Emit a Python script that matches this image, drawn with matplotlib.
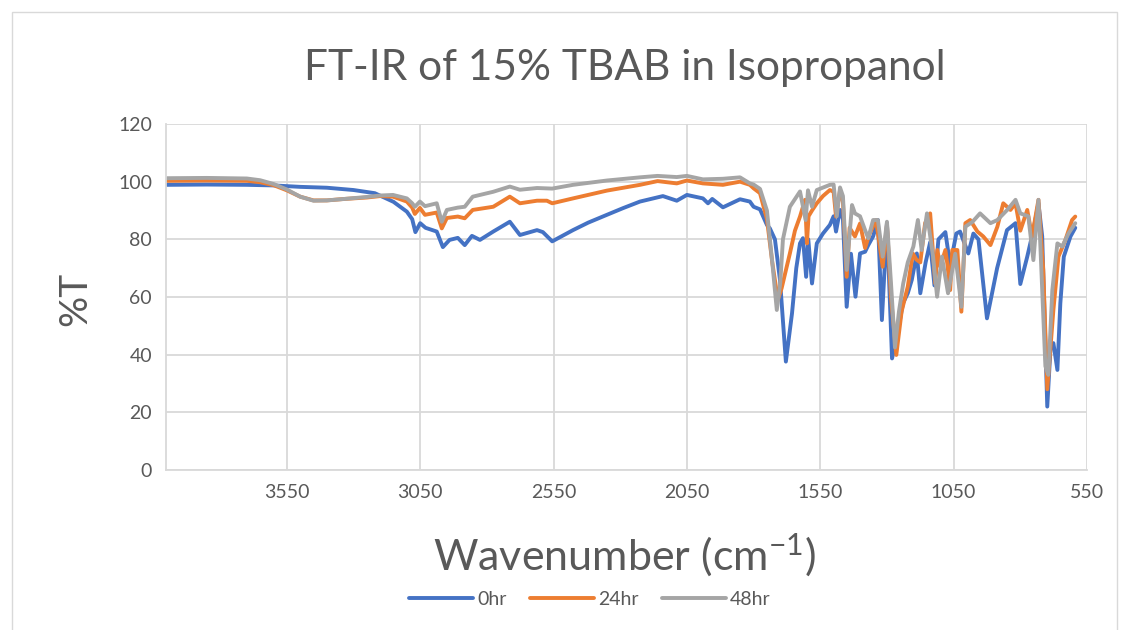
import matplotlib
matplotlib.use("Agg")
import matplotlib.pyplot as plt
from matplotlib.patches import Rectangle

# ---- data ----
wn_0hr = [4000, 3850, 3700, 3600, 3500, 3400, 3300, 3220, 3150, 3100, 3080, 3068, 3050, 3030,
          2988, 2965, 2940, 2909, 2883, 2856, 2826, 2776, 2714, 2676, 2612, 2590, 2555, 2477,
          2420, 2350, 2290, 2226, 2140, 2088, 2050, 1990, 1971, 1955, 1915, 1851, 1814, 1800,
          1776, 1750, 1739, 1720, 1701, 1679, 1656, 1640, 1626, 1615, 1603, 1595, 1581, 1563,
          1540, 1514, 1500, 1491, 1476, 1465, 1451, 1435, 1418, 1401, 1382, 1370, 1352, 1334,
          1319, 1300, 1281, 1265, 1240, 1222, 1207, 1188, 1175, 1155, 1138, 1122, 1107, 1081,
          1063, 1040, 1026, 995, 976, 957, 925, 887, 850, 818, 800, 774, 751, 732, 718, 699,
          687, 676, 661, 650, 637, 612, 594]
t_0hr = [98.9, 99.0, 98.9, 98.7, 98.2, 97.9, 97.1, 96.0, 93.0, 89.6, 87.0, 82.5, 85.6, 84.0,
         82.7, 77.3, 79.8, 80.5, 78.0, 81.2, 79.8, 82.7, 86.1, 81.5, 83.2, 82.5, 79.3, 83.2,
         85.8, 88.5, 90.8, 93.1, 95.0, 93.4, 95.4, 94.2, 92.5, 94.0, 91.1, 93.9, 93.1, 91.3,
         90.4, 85.0, 83.8, 80.0, 65.9, 37.6, 54.3, 70.0, 78.6, 80.4, 67.0, 80.0, 64.7, 78.6,
         82.0, 85.0, 88.0, 82.7, 90.2, 87.0, 56.6, 75.0, 60.1, 75.1, 75.7, 78.0, 81.0, 86.7,
         52.0, 85.6, 38.7, 45.0, 57.8, 61.3, 65.9, 75.1, 61.3, 72.0, 79.0, 64.0, 80.0, 82.5,
         71.0, 82.0, 82.7, 75.1, 82.0, 80.0, 52.6, 70.0, 83.2, 85.6, 64.5, 74.0, 83.2, 92.5,
         81.0, 22.0, 42.0, 44.0, 34.7, 57.8, 74.0, 81.0, 84.0]

wn_24hr = [4000, 3850, 3700, 3650, 3600, 3550, 3500, 3450, 3400, 3335, 3250, 3200, 3152, 3100,
           3080, 3070, 3051, 3032, 2988, 2969, 2950, 2909, 2883, 2853, 2776, 2714, 2676, 2612,
           2575, 2555, 2477, 2350, 2226, 2160, 2088, 2050, 1990, 1915, 1851, 1814, 1800, 1776,
           1750, 1730, 1709, 1695, 1664, 1645, 1626, 1607, 1600, 1594, 1581, 1563, 1540, 1514,
           1500, 1491, 1476, 1465, 1451, 1440, 1420, 1401, 1382, 1365, 1341, 1316, 1300, 1285,
           1265, 1245, 1222, 1203, 1190, 1175, 1157, 1138, 1119, 1111, 1100, 1081, 1074, 1063,
           1055, 1036, 1021, 1006, 988, 961, 939, 912, 886, 864, 837, 818, 800, 774, 756, 732,
           714, 699, 676, 657, 631, 606, 594]
t_24hr = [100.3, 100.4, 100.3, 99.8, 98.8, 97.0, 94.8, 93.5, 93.5, 94.0, 94.5, 95.0, 94.8, 93.1,
          91.0, 88.8, 90.9, 88.5, 89.3, 83.8, 87.4, 87.9, 87.3, 90.2, 91.3, 94.8, 92.5, 93.4,
          93.4, 92.5, 94.2, 96.9, 98.9, 100.2, 99.4, 100.4, 99.4, 98.9, 100.0, 98.9, 97.7, 96.0,
          87.0, 72.0, 59.0, 63.0, 75.1, 83.0, 87.9, 93.7, 78.6, 88.0, 90.0, 92.5, 95.0, 97.1,
          96.5, 87.9, 97.0, 93.0, 67.0, 84.0, 81.0, 85.5, 77.0, 82.0, 86.7, 70.5, 85.0, 60.0,
          39.9, 55.0, 63.6, 75.1, 73.0, 72.0, 85.6, 89.0, 64.7, 76.3, 70.5, 76.3, 71.7, 62.4,
          76.3, 76.3, 54.9, 85.6, 86.7, 82.7, 81.0, 78.0, 84.4, 92.5, 90.2, 92.5, 83.0, 90.2,
          81.0, 93.7, 69.4, 28.0, 55.5, 74.0, 79.8, 86.7, 87.9]

wn_48hr = [4000, 3850, 3700, 3650, 3600, 3550, 3500, 3450, 3400, 3335, 3250, 3200, 3152, 3100,
           3080, 3070, 3051, 3032, 2988, 2969, 2950, 2909, 2883, 2853, 2776, 2714, 2676, 2612,
           2555, 2477, 2350, 2226, 2160, 2088, 2050, 1990, 1915, 1851, 1814, 1800, 1776, 1750,
           1730, 1713, 1700, 1690, 1664, 1626, 1605, 1596, 1581, 1563, 1514, 1500, 1488, 1476,
           1465, 1451, 1431, 1420, 1401, 1382, 1370, 1352, 1334, 1316, 1300, 1285, 1270, 1255,
           1239, 1222, 1201, 1184, 1170, 1150, 1127, 1112, 1094, 1071, 1044, 1021, 1006, 980,
           951, 912, 886, 849, 818, 800, 770, 751, 732, 706, 695, 680, 661, 643, 619, 594]
t_48hr = [101.2, 101.3, 101.1, 100.5, 99.2, 97.3, 94.8, 93.4, 93.5, 94.0, 94.7, 95.2, 95.4, 94.2,
          92.5, 91.3, 93.1, 91.5, 92.5, 86.1, 90.2, 91.0, 91.3, 94.8, 96.5, 98.3, 97.2, 97.8,
          97.6, 98.9, 100.4, 101.5, 102.0, 101.6, 102.0, 100.8, 101.0, 101.5, 99.4, 99.0, 97.5, 90.0,
          72.0, 55.5, 65.0, 80.0, 91.3, 96.6, 86.7, 97.0, 91.3, 97.1, 98.9, 99.0, 88.0, 98.0,
          95.0, 69.4, 91.9, 89.0, 88.0, 83.2, 80.4, 86.7, 86.7, 74.0, 86.1, 65.0, 42.5, 55.0,
          64.7, 72.0, 77.5, 86.7, 76.3, 89.0, 74.0, 60.1, 74.0, 61.3, 75.0, 56.6, 84.4, 86.0,
          89.0, 85.6, 86.7, 90.2, 93.7, 89.0, 88.0, 72.8, 93.7, 36.0, 33.0, 62.4, 78.6, 77.5,
          82.1, 85.6]

series_labels = ["0hr", "24hr", "48hr"]
x_ticks = [3550, 3050, 2550, 2050, 1550, 1050, 550]
y_ticks = [0, 20, 40, 60, 80, 100, 120]

# ---- styling ----
txt = "#595959"
grid_c = "#d9d9d9"
colors = ["#4472C4", "#ED7D31", "#A5A5A5"]
plt.rcParams['font.family'] = ['Lato', 'DejaVu Sans']
plt.rcParams['mathtext.default'] = 'regular'

fig = plt.figure(figsize=(11.23, 6.30), dpi=100)
ax = fig.add_axes([166 / 1123, 1 - 470 / 630, (1087 - 166) / 1123, (470 - 124) / 630])

for wn, t, lab, c in zip([wn_0hr, wn_24hr, wn_48hr], [t_0hr, t_24hr, t_48hr], series_labels, colors):
    ax.plot(wn, t, color=c, lw=2.8, label=lab, solid_joinstyle='round', solid_capstyle='round')

ax.set_xlim(4003, 550)
ax.set_ylim(0, 120)
ax.set_xticks(x_ticks)
ax.set_yticks(y_ticks)
ax.grid(True, color=grid_c, lw=1.3)
ax.set_axisbelow(True)
for s in ["top", "right"]:
    ax.spines[s].set_visible(False)
for s in ["left", "bottom"]:
    ax.spines[s].set_color(grid_c)
    ax.spines[s].set_linewidth(1.3)
ax.tick_params(axis='both', length=0, labelsize=14, colors=txt, pad=10)

fig.text(0.556, 0.892, "FT-IR of 15% TBAB in Isopropanol", ha='center', va='center',
         fontsize=30.5, color=txt)
fig.text(0.067, 0.525, "%T", ha='center', va='center', rotation=90, fontsize=28, color=txt)
fig.text(0.556, 0.118, "Wavenumber (cm$^{-1}$)", ha='center', va='center', fontsize=31, color=txt)

leg = fig.legend(loc='center', bbox_to_anchor=(0.525, 0.048), ncol=3, frameon=False,
                 fontsize=14, handlelength=3.3, columnspacing=1.2, handletextpad=0.2)
for t in leg.get_texts():
    t.set_color(txt)

fig.patches.append(Rectangle((12 / 1123, -0.02), (1117 - 12) / 1123, 1 - 12 / 630 + 0.02,
                             transform=fig.transFigure, fill=False, edgecolor=grid_c, lw=1))

fig.savefig("out.png", dpi=100, facecolor="white")
